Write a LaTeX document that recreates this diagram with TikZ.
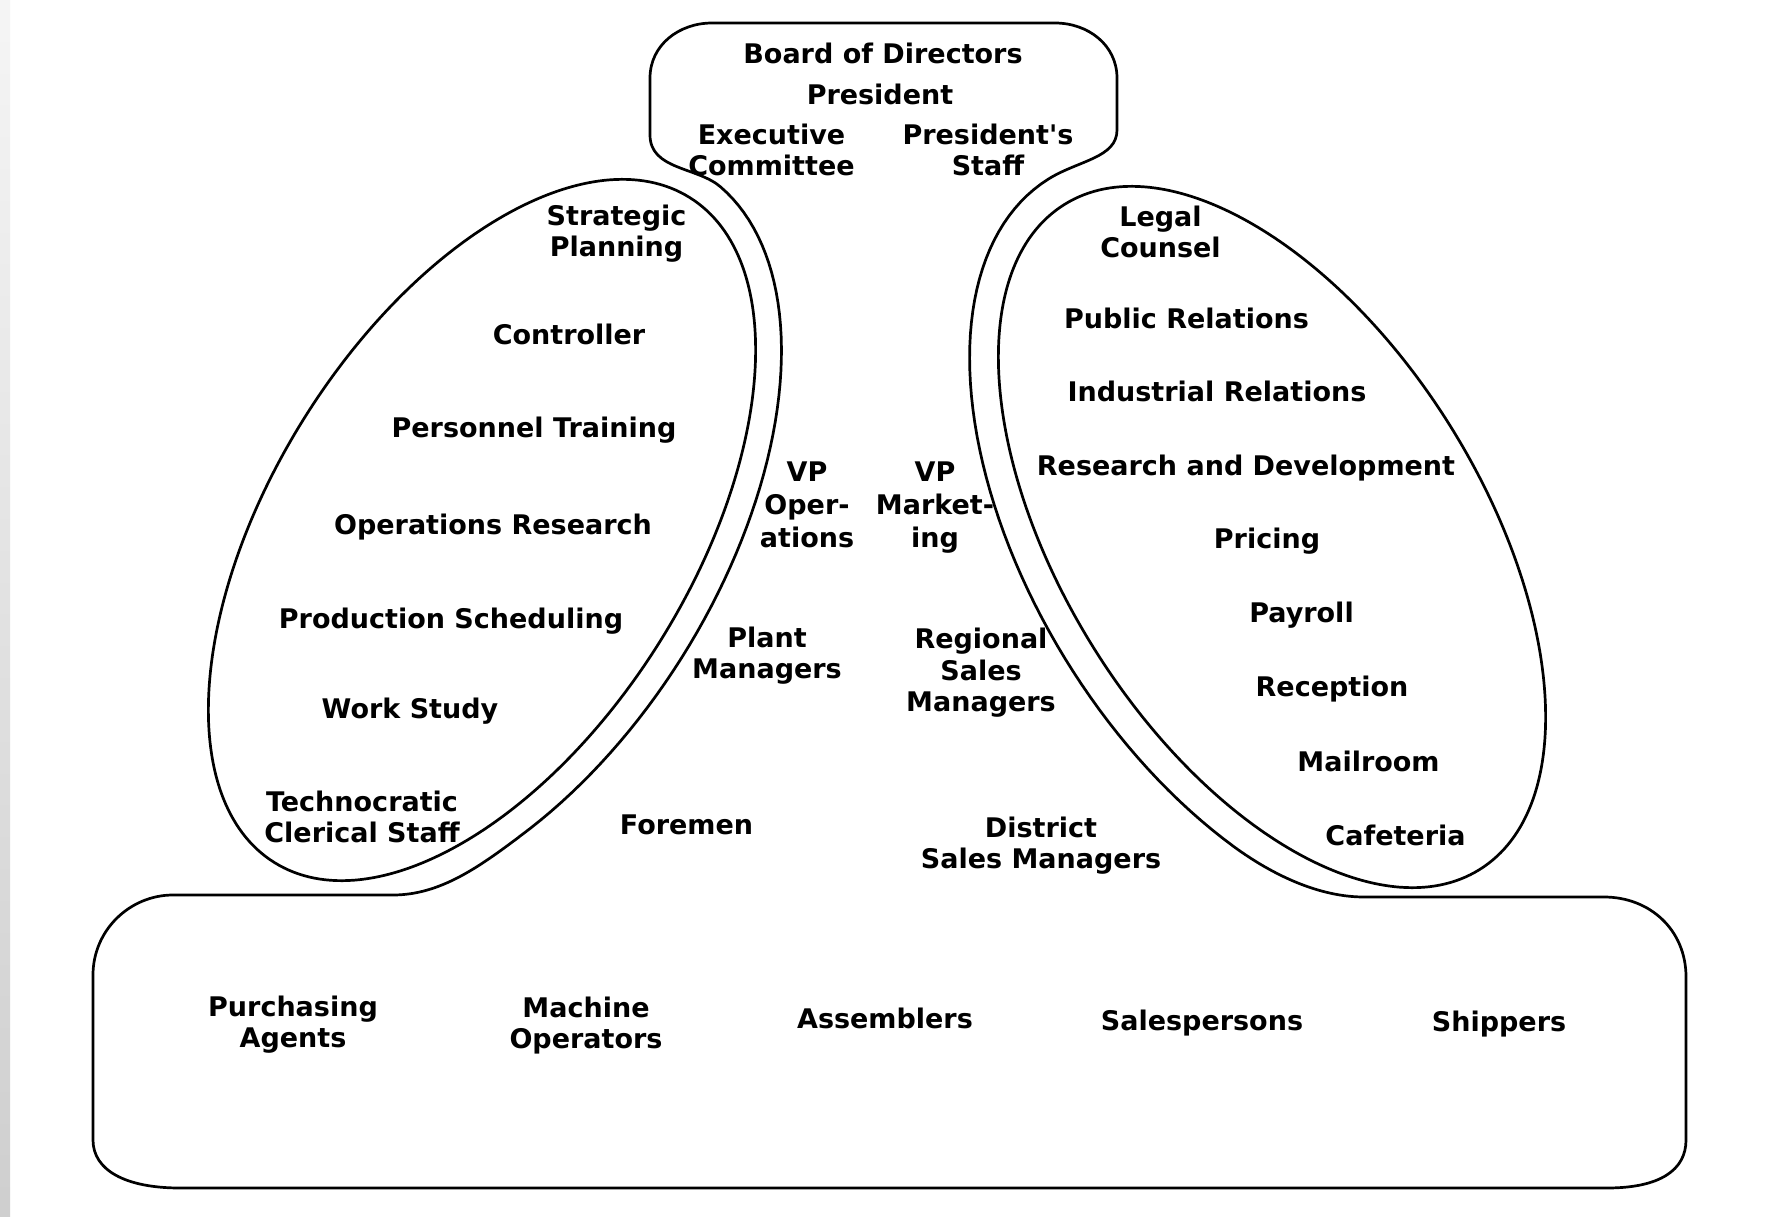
\documentclass[tikz,border=0pt]{standalone}
\usepackage{fontspec}
\setmainfont{DejaVu Sans}
\newcommand\straightquote{{\addfontfeatures{Ligatures=TeXOff}'}}
\begin{document}
\begin{tikzpicture}[x=1pt,y=-1pt,line width=2.7pt,line join=round,
  lbl/.style={anchor=north,inner sep=0pt,align=center,
    font=\bfseries\fontsize{27}{30.5}\selectfont},
  lblwide/.style={lbl,font=\bfseries\fontsize{27}{33}\selectfont}]
\useasboundingbox (0,0) rectangle (1766,1217);
\fill[white] (0,0) rectangle (1766,1217);
\shade[top color=gray!8,bottom color=gray!38,draw=none] (0,0) rectangle (10,1217);

% outer contour: apex box, the two channels beside the staff ovals, operating core
\draw (650,78) .. controls (650,45) and (679,23) .. (712,23)
  -- (1055,23) .. controls (1088,23) and (1117,45) .. (1117,78)
  -- (1117,130) .. controls (1117,158) and (1078,160.5) .. (1048.3,179.1)
  -- plot[domain=0:125,samples=60,variable=\s]
       ({1272-223.7*cos(\s)-203.5*sin(\s)},{537-357.9*cos(\s)+127.2*sin(\s)})
  .. controls (1274,876) and (1320,897) .. (1364,897)
  -- (1604,897) .. controls (1650,897) and (1686,930) .. (1686,977)
  -- (1686,1140) .. controls (1686,1170) and (1660,1188) .. (1607,1188)
  -- (180,1188) .. controls (125,1188) and (93,1170) .. (93,1140)
  -- (93,975) .. controls (93,930) and (130,895) .. (173,895)
  -- (393,895) .. controls (440,895) and (479,867) .. (519.4,836.7)
  -- plot[domain=-125:-5,samples=60,variable=\t]
       ({482+222*cos(\t)-201*sin(\t)},{530-355.3*cos(\t)-125.6*sin(\t)})
  .. controls (698,167) and (650,170) .. (650,135)
  -- cycle;

% technostructure and support staff ovals
\draw[rotate around={58:(482,530)}] (482,530) ellipse [x radius=392,y radius=210];
\draw[rotate around={-58:(1272,537)}] (1272,537) ellipse [x radius=392,y radius=210];

% strategic apex
\node[lbl] (bod) at (883,42) {Board of Directors};
\node[lbl] (pres) at (880,83) {President};
\node[lbl] (exec) at (771.5,123) {Executive\\Committee};
\node[lbl] (pstaff) at (988,123) {President\straightquote s\\Staff};

% technostructure
\node[lbl] (strat) at (616.5,204) {Strategic\\Planning};
\node[lbl] (ctrl) at (569,323) {Controller};
\node[lbl] (pers) at (534,416) {Personnel Training};
\node[lbl] (opres) at (493,513) {Operations Research};
\node[lbl] (prod) at (451,607) {Production Scheduling};
\node[lbl] (work) at (410,697) {Work Study};
\node[lbl] (techno) at (362,790) {Technocratic\\Clerical Staff};

% middle line
\node[lblwide] (vpops) at (807,460) {VP\\Oper-\\ations};
\node[lblwide] (vpmkt) at (935,460) {VP\\Market-\\ing};
\node[lbl] (plant) at (767,626) {Plant\\Managers};
\node[lbl,font=\bfseries\fontsize{27}{31.5}\selectfont] (regional) at (981,627) {Regional\\Sales\\Managers};
\node[lbl] (foremen) at (686.5,813) {Foremen};
\node[lbl] (district) at (1041,816) {District\\Sales Managers};

% support staff
\node[lbl] (legal) at (1160.5,205) {Legal\\Counsel};
\node[lbl] (pr) at (1186.5,306.5) {Public Relations};
\node[lbl] (ir) at (1217,380) {Industrial Relations};
\node[lbl] (rnd) at (1246,454) {Research and Development};
\node[lbl] (pricing) at (1267,527) {Pricing};
\node[lbl] (payroll) at (1301.5,600.5) {Payroll};
\node[lbl] (reception) at (1332,675) {Reception};
\node[lbl] (mail) at (1368.5,750) {Mailroom};
\node[lbl] (cafe) at (1395.5,823.5) {Cafeteria};

% operating core
\node[lbl] (purch) at (293,995) {Purchasing\\Agents};
\node[lbl] (machine) at (586,996) {Machine\\Operators};
\node[lbl] (assem) at (885,1007) {Assemblers};
\node[lbl] (sales) at (1202,1009) {Salespersons};
\node[lbl] (ship) at (1499,1010) {Shippers};
\end{tikzpicture}
\end{document}
